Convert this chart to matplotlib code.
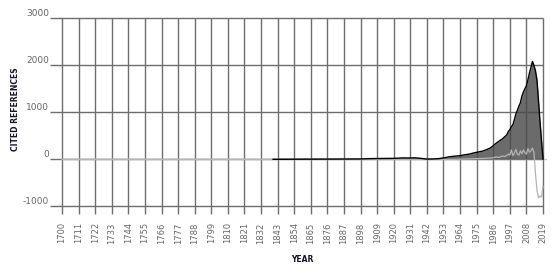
import matplotlib
matplotlib.use('Agg')
import matplotlib.pyplot as plt

# cited references per year (black outline, dark fill)
years = [1840, 1860, 1880, 1898, 1905, 1912, 1920, 1926, 1930, 1934, 1938,
         1942, 1946, 1950, 1954, 1957, 1960, 1964, 1967, 1970, 1973, 1976, 1979,
         1982, 1984, 1986, 1988, 1990, 1992, 1994, 1995, 1996, 1997, 1998, 1999,
         2000, 2001, 2002, 2003, 2004, 2005, 2006, 2007, 2008, 2009, 2010, 2011,
         2012, 2013, 2014, 2015, 2016, 2017, 2018, 2019]
cited = [0, 3, 5, 8, 15, 18, 20, 30, 28, 32, 20,
         5, 8, 15, 35, 55, 65, 78, 95, 110, 135, 155, 175,
         210, 240, 290, 343, 390, 430, 490, 521, 591, 630, 690, 734,
         840, 960, 1040, 1130, 1200, 1340, 1430, 1500, 1560, 1690, 1830, 1950,
         2077, 1990, 1880, 1680, 1250, 805, 400, 0]

# second (light grey) series
years2 = [1700, 1960, 1965, 1970, 1975, 1980, 1985, 1988, 1990, 1992, 1994, 1996,
          1997, 1998, 1999, 2000, 2001, 2002, 2003, 2004, 2005, 2006, 2007, 2008,
          2009, 2010, 2011, 2012, 2013, 2014, 2015, 2016, 2017, 2018, 2019]
series2 = [0, 0, 5, 10, 15, 20, 30, 50, 40, 70, 60, 110,
           90, 200, 80, 130, 210, 110, 90, 180, 120, 200, 140, 110,
           230, 150, 180, 240, 150, -300, -650, -820, -780, -800, -580]

xticks = list(range(1700, 2020, 11))
yticks = [-1000, 0, 1000, 2000, 3000]

W, H = 559, 274
fig = plt.figure(figsize=(W / 100, H / 100), dpi=100)
ax = fig.add_axes([50 / W, (H - 214) / H, (547 - 50) / W, (214 - 18) / H])

xmin, xmax = 1692.04, 2021.65
ymin, ymax = -1161, 3000
ax.set_xlim(xmin, xmax)
ax.set_ylim(ymin, ymax)

grid_c = '#6e6e6e'
ax.hlines(yticks, xmin, 2019, color=grid_c, lw=1.0, zorder=1, clip_on=False)
ax.vlines(xticks, ymin, ymax, color=grid_c, lw=1.0, zorder=1, clip_on=False)
ax.hlines(0, 1700, xmax, color='#c8c8c8', lw=1.0, zorder=2)

ax.fill_between(years, cited, 0, color='#4a4a4a', alpha=0.82, lw=0, zorder=3)
ax.plot(years, cited, color='black', lw=1.0, zorder=5)
ax.plot(years2, series2, color='#b4b4b4', lw=0.9, zorder=4)

for s in ax.spines.values():
    s.set_visible(False)

ax.set_xticks(xticks)
ax.set_xticklabels([str(y) for y in xticks], rotation=90, fontsize=6, color='#666666')
ax.set_yticks(yticks)
ax.set_yticklabels([str(v) for v in yticks], fontsize=6.5, color='#666666')
for lab in ax.get_yticklabels():
    lab.set_va('bottom')
ax.tick_params(axis='x', length=0, pad=6)
ax.tick_params(axis='y', length=0, pad=0.5)

fig.text(16 / W, 1 - 109 / H, 'CITED REFERENCES', rotation=90, ha='center', va='center',
         fontsize=5.5, fontweight='bold', color='#141428')
fig.text(302 / W, 1 - 260 / H, 'YEAR', ha='center', va='center',
         fontsize=5.5, fontweight='bold', color='#141428')

fig.savefig('out.png', dpi=100)
